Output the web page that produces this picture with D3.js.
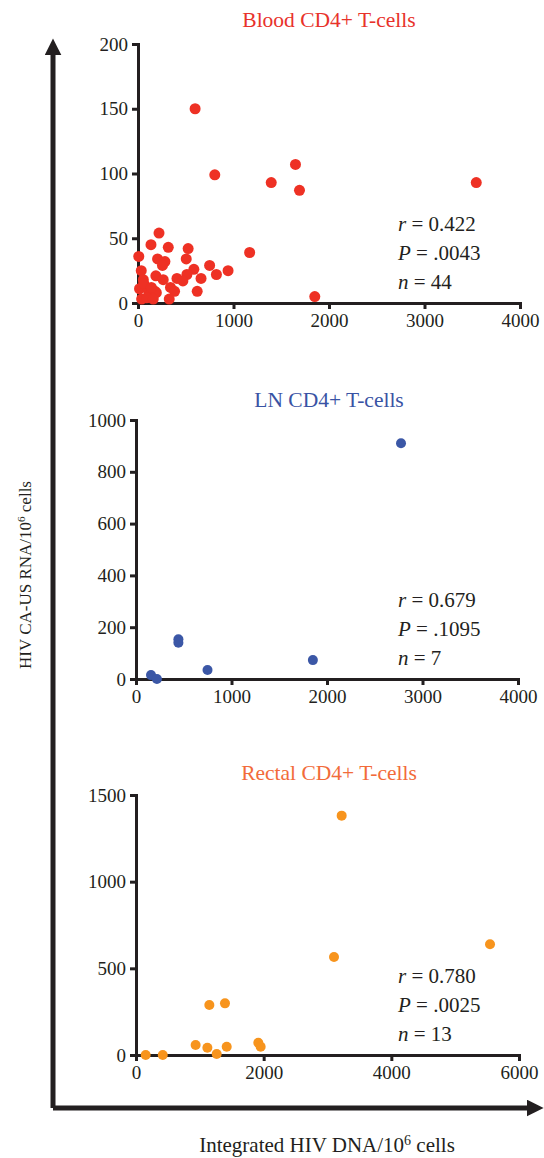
<!DOCTYPE html>
<html>
<head>
<meta charset="utf-8">
<script src="https://cdn.jsdelivr.net/npm/d3@7"></script>
<style>
  body { margin: 0; background: #fff; }
  svg text { font-family: "Liberation Serif", "DejaVu Serif", serif; fill: #231f20; }
  .axis path, .axis line { stroke: #231f20; stroke-width: 3; }
  .axis text { font-size: 19px; }
</style>
</head>
<body>
<div id="chart-area"></div>
<script>
// Blood CD4+ T-cells: [integrated DNA, CA-US RNA]
const bloodPoints = [
  [598,150],[804,99],[1395,93],[1649,107],[1691,87],[3542,93],[1851,5],[1169,39],
  [8,36],[220,54],[136,45],[317,43],[525,42],[505,34],[205,34],[282,32],
  [256,29],[750,29],[585,26],[34,25],[943,25],[821,22],[512,22],[187,21],
  [660,19],[56,18],[264,18],[408,19],[470,17],[73,13],[16,11],[340,12],
  [108,10],[178,9],[383,9],[620,9],[125,6],[192,8],[38,3],[90,4],
  [160,3],[327,3],[60,15],[140,12]
];
const lnPoints = [
  [2775,910],[444,153],[444,140],[749,35],[1852,73],[157,15],[219,0]
];
const rectalPoints = [
  [3222,1381],[5546,639],[3102,565],[1149,288],[1394,298],[934,58],[1118,42],
  [1421,48],[1264,6],[1916,71],[1953,48],[152,0],[419,0]
];

const bloodXTicks = [0,1000,2000,3000,4000], bloodYTicks = [0,50,100,150,200];
const lnXTicks = [0,1000,2000,3000,4000], lnYTicks = [0,200,400,600,800,1000];
const rectalXTicks = [0,2000,4000,6000], rectalYTicks = [0,500,1000,1500];

const bloodStats = ["0.422", ".0043", "44"];
const lnStats = ["0.679", ".1095", "7"];
const rectalStats = ["0.780", ".0025", "13"];

const width = 544, height = 1158;
const svg = d3.select("#chart-area").append("svg")
    .attr("width", width)
    .attr("height", height);

// panel layout in pixels
const panels = [
  {title: "Blood CD4+ T-cells", titleColor: "#e8322b", dotColor: "#ee3124", data: bloodPoints,
   xTicks: bloodXTicks, yTicks: bloodYTicks, stats: bloodStats,
   left: 138, right: 520, top: 44, bottom: 303, titleY: 27, r: 5.5},
  {title: "LN CD4+ T-cells", titleColor: "#3953a4", dotColor: "#3b57a6", data: lnPoints,
   xTicks: lnXTicks, yTicks: lnYTicks, stats: lnStats,
   left: 136, right: 518, top: 420, bottom: 679, titleY: 407, r: 5},
  {title: "Rectal CD4+ T-cells", titleColor: "#f26b3a", dotColor: "#f7941d", data: rectalPoints,
   xTicks: rectalXTicks, yTicks: rectalYTicks, stats: rectalStats,
   left: 136, right: 519, top: 795, bottom: 1055, titleY: 780, r: 5}
];

panels.forEach(p => {
  const x = d3.scaleLinear()
      .domain([0, d3.max(p.xTicks)])
      .range([p.left, p.right]);
  const y = d3.scaleLinear()
      .domain([0, d3.max(p.yTicks)])
      .range([p.bottom, p.top]);

  const g = svg.append("g");

  g.append("text")
      .attr("x", 329)
      .attr("y", p.titleY)
      .attr("text-anchor", "middle")
      .style("font-size", "21.5px")
      .style("fill", p.titleColor)
      .text(p.title);

  g.append("g")
      .attr("class", "axis")
      .attr("transform", "translate(0," + p.bottom + ")")
      .call(d3.axisBottom(x).tickValues(p.xTicks).tickSize(6).tickSizeOuter(0).tickPadding(5).tickFormat(d3.format("d")))
      .attr("font-family", null)
      .attr("font-size", null);

  g.append("g")
      .attr("class", "axis")
      .attr("transform", "translate(" + p.left + ",0)")
      .call(d3.axisLeft(y).tickValues(p.yTicks).tickSize(6).tickSizeOuter(0).tickPadding(4).tickFormat(d3.format("d")))
      .attr("font-family", null)
      .attr("font-size", null);

  g.selectAll(".axis .domain").attr("stroke-linecap", "square");

  g.append("g")
    .selectAll("circle")
    .data(p.data)
    .enter()
    .append("circle")
      .attr("cx", d => x(d[0]))
      .attr("cy", d => y(d[1]))
      .attr("r", p.r)
      .attr("fill", p.dotColor);

  // correlation stats
  const statTop = p.bottom - 72;
  const labels = ["r", "P", "n"];
  labels.forEach((lab, i) => {
    const t = g.append("text")
        .attr("x", 398)
        .attr("y", statTop + i * 29)
        .style("font-size", "21px");
    t.append("tspan").style("font-style", "italic").text(lab);
    t.append("tspan").text(" = " + p.stats[i]);
  });
});

// big axis arrows
const defs = svg.append("defs");
defs.append("marker")
    .attr("id", "arrow")
    .attr("viewBox", "0 0 10 10")
    .attr("refX", 2)
    .attr("refY", 5)
    .attr("markerWidth", 3.4)
    .attr("markerHeight", 3.4)
    .attr("orient", "auto")
  .append("path")
    .attr("d", "M0,0 L10,5 L0,10 Z")
    .attr("fill", "#231f20");

svg.append("path")
    .attr("d", "M53,1108 L53,52")
    .attr("stroke", "#231f20")
    .attr("stroke-width", 5)
    .attr("fill", "none")
    .attr("marker-end", "url(#arrow)");
svg.append("path")
    .attr("d", "M53,1108 L530,1108")
    .attr("stroke", "#231f20")
    .attr("stroke-width", 5)
    .attr("fill", "none")
    .attr("marker-end", "url(#arrow)");

// axis titles
const yt = svg.append("text")
    .attr("transform", "translate(31,575) rotate(-90)")
    .attr("text-anchor", "middle")
    .style("font-size", "17px");
yt.append("tspan").text("HIV CA-US RNA/10");
yt.append("tspan").attr("baseline-shift", "super").style("font-size", "11px").text("6");
yt.append("tspan").text(" cells");

const xt = svg.append("text")
    .attr("x", 327)
    .attr("y", 1152)
    .attr("text-anchor", "middle")
    .style("font-size", "21px");
xt.append("tspan").text("Integrated HIV DNA/10");
xt.append("tspan").attr("baseline-shift", "super").style("font-size", "14px").text("6");
xt.append("tspan").text(" cells");
</script>
</body>
</html>
